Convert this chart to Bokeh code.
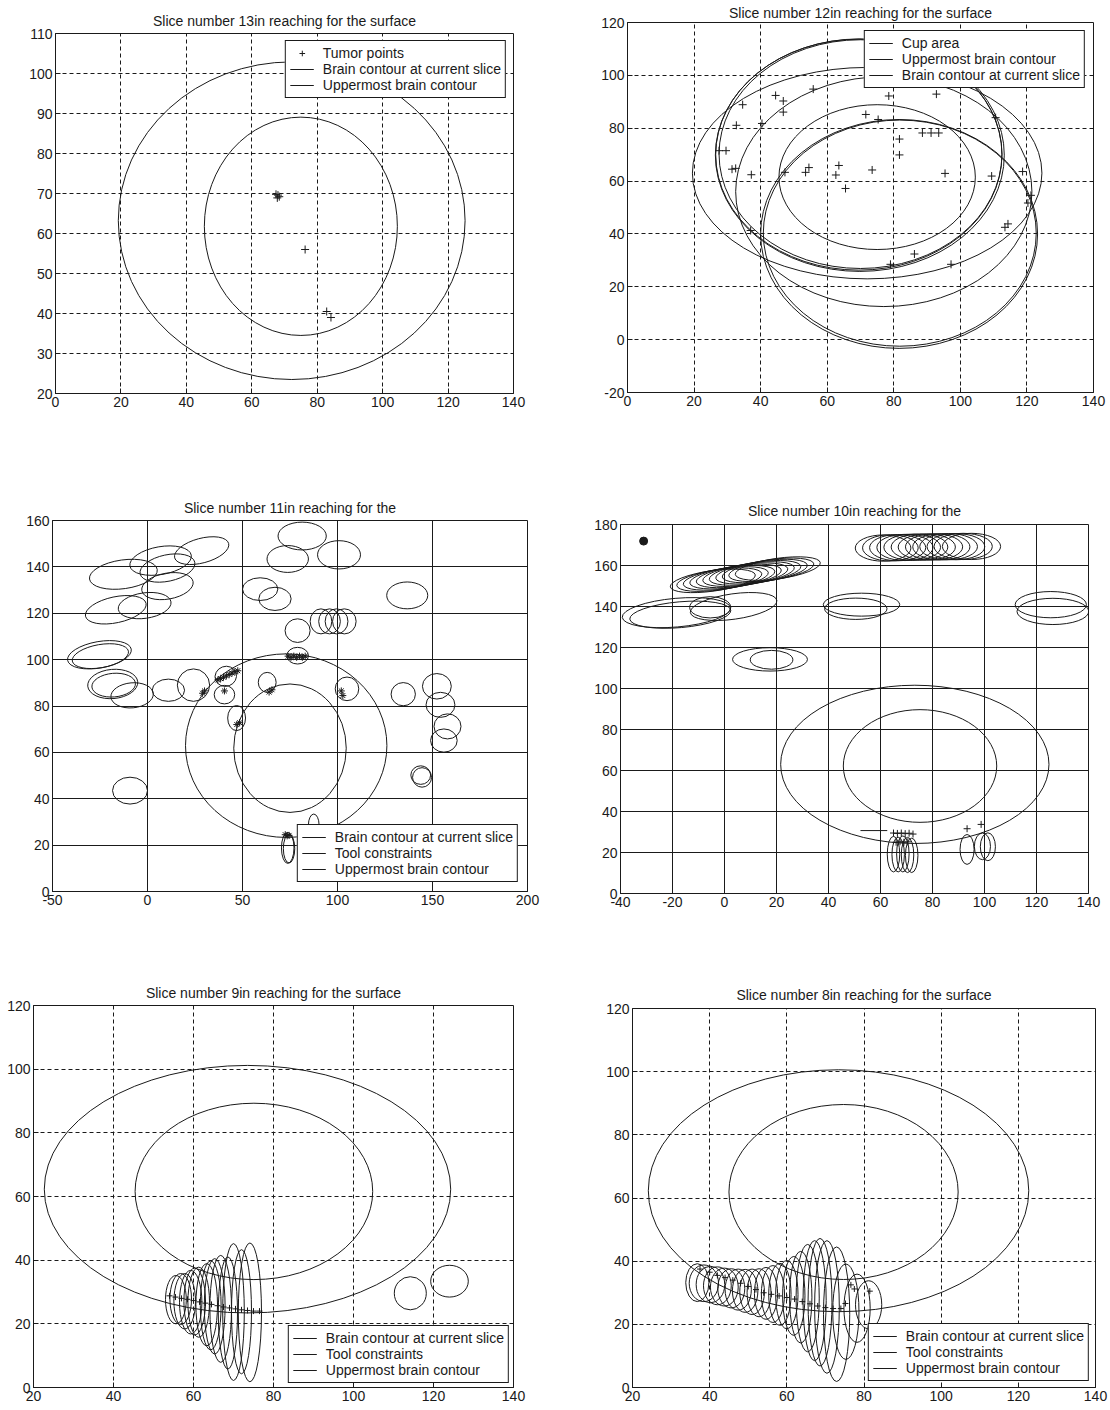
from bokeh.plotting import figure
from bokeh.layouts import column, row
from bokeh.models import ColumnDataSource, FixedTicker, Legend, LegendItem, Range1d
from bokeh.embed import file_html
from bokeh.resources import INLINE

FONT = "Liberation Sans"
INK = "#1a1a1a"
NAN = float("nan")

# ---------------- Slice 13 ----------------
s13_contour_cx = [72.2, 75.0]
s13_contour_cy = [63.2, 61.8]
s13_contour_rx = [53.0, 29.5]
s13_contour_ry = [39.7, 27.3]
s13_tumor_x = [67.4, 68.4, 68.0, 67.8, 76.3, 82.9, 84.2]
s13_tumor_y = [69.8, 69.2, 69.6, 68.9, 56.0, 40.5, 39.0]

# ---------------- Slice 12 ----------------
s12_cup_cx = [69.5, 70.0, 69.8]
s12_cup_cy = [70.0, 70.2, 69.8]
s12_cup_rx = [43.0, 42.5, 43.4]
s12_cup_ry = [43.7, 43.3, 44.0]
s12_contour_cx = [72.0, 75.0, 81.6, 81.8, 77.0]
s12_contour_cy = [63.0, 61.5, 40.0, 40.3, 56.0]
s12_contour_rx = [52.5, 29.5, 41.6, 41.0, 44.5]
s12_contour_ry = [40.0, 27.4, 43.3, 42.8, 43.5]
s12_tumor_x = [27.5, 29.6, 32.7, 34.6, 31.4, 32.5, 37.2, 40.4, 37.0, 44.5, 46.8, 46.8,
               47.3, 55.8, 53.5, 54.5, 62.6, 63.5, 65.5, 71.6, 73.5, 75.3, 78.5, 81.7,
               81.7, 88.6, 91.2, 93.5, 92.8, 95.4, 109.4, 110.6, 118.7, 120.3, 121.2,
               113.4, 114.3, 86.2, 79.0, 97.2]
s12_tumor_y = [71.5, 71.5, 81.1, 88.9, 64.5, 64.8, 62.4, 81.8, 41.3, 92.4, 90.3, 86.1,
               63.3, 94.8, 63.3, 65.1, 62.3, 65.9, 57.2, 85.2, 64.2, 83.3, 92.2, 75.9,
               69.9, 78.2, 78.2, 78.2, 92.9, 62.9, 61.9, 84.0, 63.6, 51.7, 54.6,
               42.5, 43.8, 32.4, 28.5, 28.5]

# ---------------- Slice 11 ----------------
s11_contour_cx = [73.0, 75.0]
s11_contour_cy = [62.9, 61.8]
s11_contour_rx = [53.0, 29.6]
s11_contour_ry = [39.6, 27.7]
s11_tool_cx = [-12.7, 6.9, 10.5, 28.5, 10.5, -16.7, -1.5, -25.3, -24.8, -18.3, -17.8, -8.1,
               11.0, 24.2, 41.2, 40.5, 46.9, 63.0, 79.0, 79.0, 59.3, 67.1, 73.8, 81.4,
               100.8, 91.3, 95.8, 99.5, 103.6, 136.7, 134.6, 152.3, 154.2, 157.9, 156.0,
               143.8, 144.5, -9.2, 105.0, 87.5, 73.8, 74.5]
s11_tool_cy = [136.8, 142.7, 139.5, 147.0, 131.7, 121.5, 123.3, 102.1, 101.5, 89.5, 89.0, 84.6,
               86.8, 89.0, 92.8, 84.9, 74.8, 90.2, 101.7, 112.5, 130.4, 126.2, 143.4, 153.3,
               145.2, 116.5, 116.5, 116.5, 116.5, 127.7, 85.1, 88.5, 80.5, 71.2, 65.1,
               50.2, 49.2, 43.5, 87.4, 28.7, 18.8, 18.5]
s11_tool_rx = [18.0, 16.4, 14.7, 14.7, 13.7, 16.3, 14.0, 17.0, 15.0, 13.2, 11.5, 11.2,
               8.5, 8.5, 5.7, 5.4, 4.7, 4.7, 5.7, 6.6, 9.3, 8.5, 10.9, 12.7,
               11.3, 5.7, 5.7, 6.0, 6.2, 10.8, 6.4, 7.6, 7.6, 7.1, 7.0,
               5.2, 5.0, 9.2, 6.2, 2.8, 3.3, 3.0]
s11_tool_ry = [6.2, 6.0, 5.7, 5.3, 5.6, 5.6, 5.5, 5.7, 5.0, 6.3, 5.1, 5.4,
               4.8, 7.0, 4.3, 4.0, 5.4, 4.3, 3.6, 5.1, 4.9, 5.0, 5.8, 6.0,
               6.1, 5.4, 5.4, 5.4, 5.4, 5.8, 5.0, 5.5, 5.4, 5.4, 5.0,
               4.0, 4.2, 5.8, 5.1, 4.7, 6.7, 6.2]
s11_tool_angle = [8, 10, 12, 15, 10, 12, 8, 10, 10, 5, 5, 5,
                  0, 0, 20, 0, 0, 0, 0, 0, 0, 0, 0, 0,
                  0, 0, 0, 0, 0, 0, 0, 0, 0, 0, 0,
                  0, 0, 0, 0, 0, 0, 0]
s11_tumor_x = [74.0, 75.5, 77.0, 78.5, 80.0, 81.5, 83.0, 37.0, 38.5, 40.0, 41.5, 43.0, 44.5,
               46.0, 47.5, 29.0, 30.0, 40.5, 47.0, 48.5, 64.0, 65.5, 102.0, 102.8, 72.5,
               73.5, 74.5]
s11_tumor_y = [101.5, 101.0, 101.5, 101.0, 101.5, 101.0, 101.5, 91.2, 91.8, 92.4, 93.0, 93.6,
               94.2, 94.8, 95.2, 85.5, 86.5, 86.5, 72.0, 72.8, 86.0, 87.0, 86.5, 84.5, 24.5,
               24.0, 24.2]

# ---------------- Slice 10 ----------------
s10_contour_cx = [73.2, 75.2]
s10_contour_cy = [63.0, 62.2]
s10_contour_rx = [51.6, 29.5]
s10_contour_ry = [38.6, 27.5]
s10_tool_cx = [61.0, 63.8, 66.6, 69.4, 72.2, 75.0, 77.8, 80.6, 83.4, 86.2, 89.0, 91.8, 95.0,
               -4.5, -2.0, 0.5, 3.0, 5.5, 8.0, 10.5, 13.0, 15.5, 18.0, 20.5,
               -18.5, -17.0, -5.5, 3.5, 52.7, 50.5, 125.5, 126.3, 17.5, 18.1,
               65.0, 66.8, 68.6, 70.4, 72.0, 93.3, 99.2, 101.3]
s10_tool_cy = [168.5, 168.6, 168.7, 168.8, 168.9, 169.0, 169.0, 169.1, 169.1, 169.2, 169.2, 169.3, 169.3,
               152.5, 153.1, 153.7, 154.3, 154.9, 155.5, 156.1, 156.7, 157.3, 157.9, 158.5,
               137.0, 136.0, 139.6, 140.0, 140.9, 138.9, 140.9, 137.6, 114.2, 114.0,
               19.2, 19.0, 19.3, 18.8, 18.6, 21.5, 23.0, 22.8]
s10_tool_rx = [10.7, 10.7, 10.8, 10.8, 10.9, 10.9, 11.0, 11.0, 11.0, 11.1, 11.1, 11.2, 11.2,
               16.5, 16.5, 16.5, 16.5, 16.5, 16.5, 16.5, 16.5, 16.5, 16.5, 16.5,
               20.9, 19.5, 7.9, 16.8, 14.7, 12.0, 13.7, 13.8, 14.4, 8.2,
               2.4, 2.4, 2.4, 2.4, 2.4, 2.7, 3.1, 2.9]
s10_tool_ry = [6.4, 6.4, 6.4, 6.4, 6.4, 6.4, 6.4, 6.4, 6.4, 6.4, 6.4, 6.4, 6.4,
               5.0, 5.0, 5.0, 5.0, 5.0, 5.0, 5.0, 5.0, 5.0, 5.0, 5.0,
               7.0, 6.3, 5.2, 6.2, 5.6, 5.2, 6.4, 6.4, 5.7, 4.6,
               8.7, 8.5, 8.8, 8.6, 8.4, 7.3, 6.5, 6.8]
s10_tool_angle = [0, 0, 0, 0, 0, 0, 0, 0, 0, 0, 0, 0, 0,
                  8, 8, 8, 8, 8, 8, 8, 8, 8, 8, 8,
                  5, 5, 0, 8, 0, 0, 0, 0, 0, 0,
                  0, 0, 0, 0, 0, 0, 0, 0]
s10_tumor_x = [65.0, 66.5, 68.0, 69.5, 71.0, 72.5, 66.0, 67.5, 69.0, 70.5, 93.3, 98.7]
s10_tumor_y = [29.5, 29.3, 29.5, 29.2, 29.4, 29.0, 25.0, 25.2, 25.0, 25.2, 31.6, 33.7]
s10_dot_x = [-31.1]
s10_dot_y = [171.9]
s10_segment_x = [52.3, 62.6]
s10_segment_y = [30.7, 30.7]

# ---------------- Slice 9 ----------------
s9_contour_cx = [73.5, 75.1]
s9_contour_cy = [62.3, 61.6]
s9_contour_rx = [50.8, 29.7]
s9_contour_ry = [38.9, 27.7]
s9_tool_cx = [55.6, 56.8, 57.8, 59.3, 60.3, 61.3, 63.3, 64.3, 65.3, 66.8, 68.6, 70.0, 72.0,
              74.1, 114.2, 124.0]
s9_tool_cy = [27.6, 27.8, 27.1, 26.8, 27.0, 26.8, 26.0, 25.8, 25.5, 24.7, 23.4, 23.7, 23.8,
              23.6, 29.6, 33.4]
s9_tool_rx = [2.6, 2.7, 2.7, 2.8, 2.7, 2.7, 2.7, 2.6, 2.6, 2.7, 2.4, 2.7, 2.5,
              2.9, 4.0, 4.7]
s9_tool_ry = [7.6, 8.0, 8.7, 10.0, 10.5, 11.0, 12.9, 14.0, 15.0, 16.8, 17.6, 21.5, 19.5,
              21.8, 5.2, 5.0]
s9_tumor_x = [54.0, 55.5, 57.0, 58.5, 60.0, 61.5, 63.0, 64.5, 66.0, 67.5, 69.0, 70.5,
              72.0, 73.5, 75.0, 76.5]
s9_tumor_y = [28.8, 28.4, 28.0, 27.7, 27.3, 26.9, 26.5, 26.1, 25.7, 25.3, 25.0, 24.7,
              24.4, 24.2, 24.0, 24.0]

# ---------------- Slice 8 ----------------
s8_contour_cx = [73.4, 74.7]
s8_contour_cy = [62.3, 61.9]
s8_contour_rx = [49.3, 29.7]
s8_contour_ry = [38.3, 27.7]
s8_tool_cx = [36.8, 38.5, 40.2, 42.0, 43.8, 45.6, 47.4, 49.2, 51.0, 52.8, 54.6, 56.4,
              58.2, 60.0, 61.8, 63.6, 65.4, 67.2, 68.6, 70.4, 72.9, 75.3, 78.2, 81.2]
s8_tool_cy = [33.2, 33.0, 32.6, 32.2, 31.8, 31.4, 31.0, 30.6, 30.3, 30.0, 29.8, 29.6,
              29.5, 29.4, 29.0, 28.6, 28.3, 27.5, 27.0, 25.5, 23.2, 24.0, 25.1, 26.2]
s8_tool_rx = [3.0, 3.8, 3.7, 3.6, 3.6, 3.5, 3.4, 3.3, 3.2, 3.1, 3.0, 3.0,
              2.9, 2.9, 2.9, 2.9, 3.0, 3.0, 3.1, 3.2, 3.4, 3.4, 3.4, 3.4]
s8_tool_ry = [6.0, 5.8, 5.8, 6.0, 6.0, 6.2, 6.5, 6.8, 7.2, 7.6, 8.2, 9.0,
              9.8, 10.8, 12.5, 14.5, 17.0, 19.0, 20.2, 21.0, 21.3, 15.1, 10.8, 7.6]
s8_tumor_x = [37.5, 40.0, 42.0, 44.0, 46.0, 48.0, 50.0, 52.0, 54.0, 56.0, 58.0, 60.0,
              62.0, 64.0, 66.0, 68.0, 70.0, 72.0, 74.0, 75.2, 76.6, 77.5, 81.5]
s8_tumor_y = [37.5, 36.5, 35.5, 34.8, 34.0, 33.0, 32.0, 31.0, 30.0, 29.5, 29.0, 28.5,
              28.0, 27.2, 26.5, 25.8, 25.3, 25.0, 25.0, 26.6, 32.5, 31.2, 30.5]

# ---------------- axes ----------------
ticks_0_140 = [0, 20, 40, 60, 80, 100, 120, 140]
labels_0_140 = ["0", "20", "40", "60", "80", "100", "120", "140"]
ticks_20_110 = [20, 30, 40, 50, 60, 70, 80, 90, 100, 110]
labels_20_110 = ["20", "30", "40", "50", "60", "70", "80", "90", "100", "110"]
ticks_m20_120 = [-20, 0, 20, 40, 60, 80, 100, 120]
labels_m20_120 = ["-20", "0", "20", "40", "60", "80", "100", "120"]
ticks_m50_200 = [-50, 0, 50, 100, 150, 200]
labels_m50_200 = ["-50", "0", "50", "100", "150", "200"]
ticks_0_160 = [0, 20, 40, 60, 80, 100, 120, 140, 160]
labels_0_160 = ["0", "20", "40", "60", "80", "100", "120", "140", "160"]
ticks_m40_140 = [-40, -20, 0, 20, 40, 60, 80, 100, 120, 140]
labels_m40_140 = ["-40", "-20", "0", "20", "40", "60", "80", "100", "120", "140"]
ticks_0_180 = [0, 20, 40, 60, 80, 100, 120, 140, 160, 180]
labels_0_180 = ["0", "20", "40", "60", "80", "100", "120", "140", "160", "180"]
ticks_20_140 = [20, 40, 60, 80, 100, 120, 140]
labels_20_140 = ["20", "40", "60", "80", "100", "120", "140"]
ticks_0_120 = [0, 20, 40, 60, 80, 100, 120]
labels_0_120 = ["0", "20", "40", "60", "80", "100", "120"]


def panel(title, xr, yr, xt, xl, yt, yl, w, h, bl, br, bt, bb, dashed, standoff):
    p = figure(width=w, height=h, x_range=Range1d(*xr), y_range=Range1d(*yr),
               output_backend="svg", toolbar_location=None,
               min_border_left=bl, min_border_right=br,
               min_border_top=bt, min_border_bottom=bb)
    p.frame_align = False
    p.title.text = title
    p.title.align = "center"
    p.title.text_font = FONT
    p.title.text_font_size = "14px"
    p.title.text_font_style = "normal"
    p.title.text_color = INK
    p.title.standoff = standoff
    p.xaxis.ticker = FixedTicker(ticks=xt)
    p.yaxis.ticker = FixedTicker(ticks=yt)
    p.xaxis.major_label_overrides = dict(zip(xt, xl))
    p.yaxis.major_label_overrides = dict(zip(yt, yl))
    for ax in (p.xaxis[0], p.yaxis[0]):
        ax.major_label_text_font = FONT
        ax.major_label_text_font_size = "14px"
        ax.major_label_text_color = INK
        ax.major_tick_in = 5
        ax.major_tick_out = 0
        ax.major_tick_line_color = INK
        ax.minor_tick_line_color = None
        ax.axis_line_color = INK
        ax.major_label_standoff = 3
    for g in (p.xgrid[0], p.ygrid[0]):
        g.grid_line_color = INK
        g.grid_line_alpha = 1
        g.grid_line_width = 1
        g.grid_line_dash = "4 3" if dashed else "solid"
    p.outline_line_color = INK
    p.outline_line_alpha = 1
    p.outline_line_width = 1
    p.background_fill_color = "white"
    p.border_fill_color = "white"
    return p


def ellipses(p, cx, cy, rx, ry, angle=None):
    if angle is None:
        angle = [0] * len(cx)
    src = ColumnDataSource(dict(x=cx, y=cy, w=[2 * r for r in rx], h=[2 * r for r in ry], a=angle))
    return p.ellipse(x="x", y="y", width="w", height="h", angle="a", angle_units="deg",
                     source=src, fill_color=None, line_color=INK, line_width=1)


def crosses(p, x, y, marker="cross", size=8):
    return p.scatter(x=x, y=y, marker=marker, size=size, line_color=INK, line_width=1)


def key_line(p):
    # legend key only: a line with no visible point
    return p.line(x=[NAN, NAN], y=[NAN, NAN], line_color=INK, line_width=1)


def legend(p, labels, renderers, location, margin):
    items = [LegendItem(label=l, renderers=[r]) for l, r in zip(labels, renderers)]
    lg = Legend(items=items, location=location, margin=margin,
                border_line_color=INK, border_line_width=1, border_line_alpha=1,
                background_fill_color="white", background_fill_alpha=1,
                label_text_font=FONT, label_text_font_size="14px", label_text_color=INK,
                glyph_width=24, glyph_height=14, label_height=14, label_standoff=9,
                spacing=0, padding=4)
    p.add_layout(lg, "center")


W = 554

# Slice 13
p13 = panel("Slice number 13in reaching for the surface", (0, 140), (20, 110),
            ticks_0_140, labels_0_140, ticks_20_110, labels_20_110,
            W, 465, 55, 41, 33, 72, True, 10)
ellipses(p13, s13_contour_cx, s13_contour_cy, s13_contour_rx, s13_contour_ry)
r_tumor13 = crosses(p13, s13_tumor_x, s13_tumor_y)
legend(p13, ["Tumor points", "Brain contour at current slice", "Uppermost brain contour"],
       [r_tumor13, key_line(p13), key_line(p13)], "top_right", 7)

# Slice 12
p12 = panel("Slice number 12in reaching for the surface", (0, 140), (-20, 120),
            ticks_0_140, labels_0_140, ticks_m20_120, labels_m20_120,
            W, 465, 73, 15, 22, 73, True, 4)
ellipses(p12, s12_cup_cx, s12_cup_cy, s12_cup_rx, s12_cup_ry)
ellipses(p12, s12_contour_cx, s12_contour_cy, s12_contour_rx, s12_contour_ry)
crosses(p12, s12_tumor_x, s12_tumor_y)
legend(p12, ["Cup area", "Uppermost brain contour", "Brain contour at current slice"],
       [key_line(p12), key_line(p12), key_line(p12)], "top_right", 8)

# Slice 11
p11 = panel("Slice number 11in reaching for the", (-50, 200), (0, 160),
            ticks_m50_200, labels_m50_200, ticks_0_160, labels_0_160,
            W, 490, 52, 27, 55, 64, False, 10)
ellipses(p11, s11_contour_cx, s11_contour_cy, s11_contour_rx, s11_contour_ry)
ellipses(p11, s11_tool_cx, s11_tool_cy, s11_tool_rx, s11_tool_ry, s11_tool_angle)
crosses(p11, s11_tumor_x, s11_tumor_y, marker="asterisk", size=7)
legend(p11, ["Brain contour at current slice", "Tool constraints", "Uppermost brain contour"],
       [key_line(p11), key_line(p11), key_line(p11)], "bottom_right", 9)

# Slice 10
p10 = panel("Slice number 10in reaching for the", (-40, 140), (0, 180),
            ticks_m40_140, labels_m40_140, ticks_0_180, labels_0_180,
            W, 490, 66, 20, 59, 62, False, 11)
ellipses(p10, s10_contour_cx, s10_contour_cy, s10_contour_rx, s10_contour_ry)
ellipses(p10, s10_tool_cx, s10_tool_cy, s10_tool_rx, s10_tool_ry, s10_tool_angle)
crosses(p10, s10_tumor_x, s10_tumor_y, size=7)
p10.scatter(x=s10_dot_x, y=s10_dot_y, marker="circle", size=8, fill_color=INK, line_color=INK)
p10.line(x=s10_segment_x, y=s10_segment_y, line_color=INK, line_width=1)

# Slice 9
p9 = panel("Slice number 9in reaching for the surface", (20, 140), (0, 120),
           ticks_20_140, labels_20_140, ticks_0_120, labels_0_120,
           W, 453, 33, 41, 50, 21, True, 10)
ellipses(p9, s9_contour_cx, s9_contour_cy, s9_contour_rx, s9_contour_ry)
ellipses(p9, s9_tool_cx, s9_tool_cy, s9_tool_rx, s9_tool_ry)
crosses(p9, s9_tumor_x, s9_tumor_y, size=6)
legend(p9, ["Brain contour at current slice", "Tool constraints", "Uppermost brain contour"],
       [key_line(p9), key_line(p9), key_line(p9)], "bottom_right", 4)

# Slice 8
p8 = panel("Slice number 8in reaching for the surface", (20, 140), (0, 120),
           ticks_20_140, labels_20_140, ticks_0_120, labels_0_120,
           W, 453, 78, 13, 53, 21, True, 11)
ellipses(p8, s8_contour_cx, s8_contour_cy, s8_contour_rx, s8_contour_ry)
ellipses(p8, s8_tool_cx, s8_tool_cy, s8_tool_rx, s8_tool_ry)
crosses(p8, s8_tumor_x, s8_tumor_y, size=6)
legend(p8, ["Brain contour at current slice", "Tool constraints", "Uppermost brain contour"],
       [key_line(p8), key_line(p8), key_line(p8)], "bottom_right", 6)

layout = column(row(p13, p12), row(p11, p10), row(p9, p8))
open("out.html", "w").write(file_html(layout, INLINE))
